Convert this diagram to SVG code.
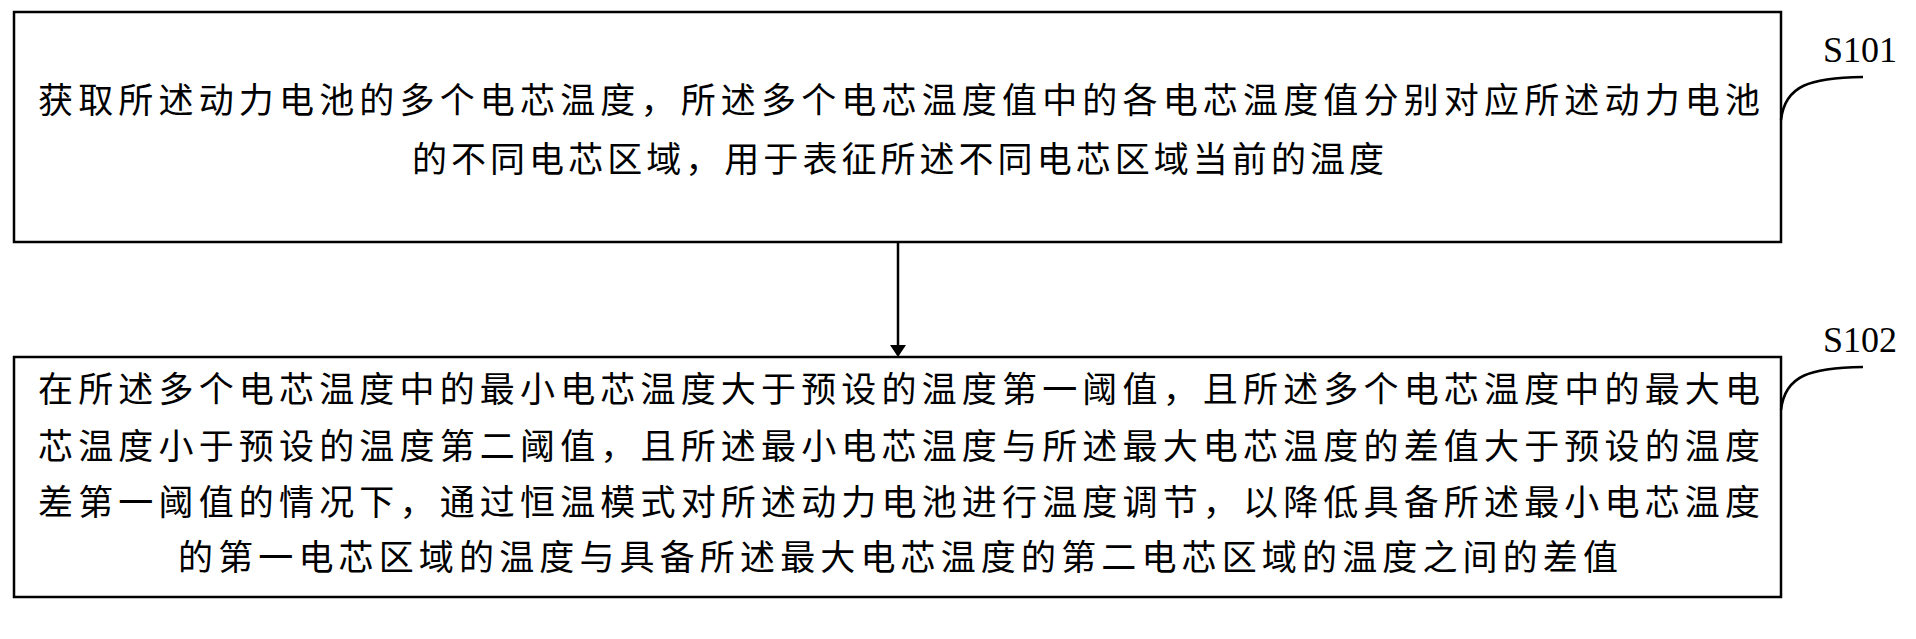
<svg xmlns="http://www.w3.org/2000/svg" width="1916" height="639" viewBox="0 0 1916 639">
<style>
.box{fill:#fff;stroke:#000;stroke-width:2.5}
.t{font-family:"Noto Sans CJK SC","Noto Sans CJK JP",sans-serif;font-size:35px;fill:#000}
.lbl{font-family:"Liberation Serif",serif;font-size:36px;fill:#000}
.ln{fill:none;stroke:#000;stroke-width:2.5}
</style>
<defs><marker id="ah" markerWidth="12" markerHeight="16" refX="10" refY="8" orient="auto" markerUnits="userSpaceOnUse"><path d="M0,0 L12,8 L0,16 Z" fill="#000"/></marker></defs>
<rect width="1916" height="639" fill="#fff"/>
<g id="S101">
<rect class="box" x="14" y="12" width="1767" height="230"/>
<text class="t" x="38" y="113" textLength="1722" lengthAdjust="spacing">获取所述动力电池的多个电芯温度，所述多个电芯温度值中的各电芯温度值分别对应所述动力电池</text>
<text class="t" x="898" y="172" text-anchor="middle" textLength="972" lengthAdjust="spacing">的不同电芯区域，用于表征所述不同电芯区域当前的温度</text>
<path class="ln" d="M1781,120 C1785,85 1810,78 1863,77"/>
<text class="lbl" x="1823" y="62">S101</text>
</g>
<g id="S102">
<rect class="box" x="14" y="357" width="1767" height="240"/>
<text class="t" x="38" y="402" textLength="1722" lengthAdjust="spacing">在所述多个电芯温度中的最小电芯温度大于预设的温度第一阈值，且所述多个电芯温度中的最大电</text>
<text class="t" x="38" y="459" textLength="1722" lengthAdjust="spacing">芯温度小于预设的温度第二阈值，且所述最小电芯温度与所述最大电芯温度的差值大于预设的温度</text>
<text class="t" x="38" y="515" textLength="1722" lengthAdjust="spacing">差第一阈值的情况下，通过恒温模式对所述动力电池进行温度调节，以降低具备所述最小电芯温度</text>
<text class="t" x="898" y="570" text-anchor="middle" textLength="1440" lengthAdjust="spacing">的第一电芯区域的温度与具备所述最大电芯温度的第二电芯区域的温度之间的差值</text>
<path class="ln" d="M1781,410 C1785,375 1810,368 1863,367"/>
<text class="lbl" x="1823" y="352">S102</text>
</g>
<g id="connectors">
<line class="ln" x1="898" y1="242" x2="898" y2="355" marker-end="url(#ah)" stroke-width="1.5"/>
</g>
</svg>
